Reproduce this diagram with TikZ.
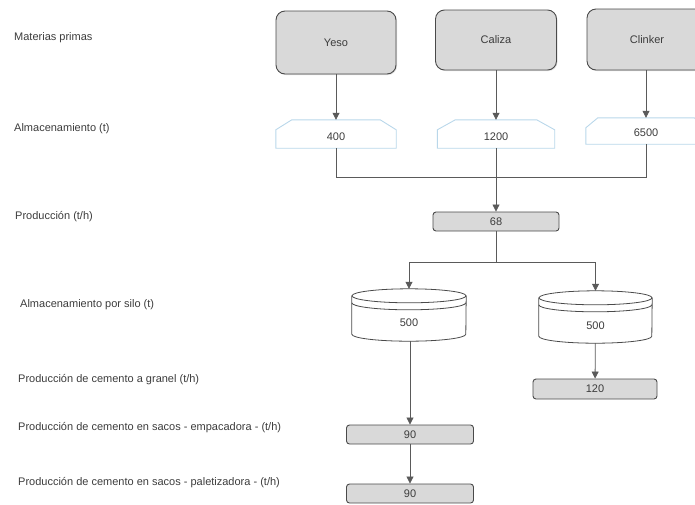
\documentclass[tikz,border=0pt]{standalone}
\usepackage{fontspec}
\setmainfont{Liberation Sans}
\usetikzlibrary{arrows.meta,calc,backgrounds,shadows}
\definecolor{boxfill}{HTML}{D9D9D9}
\definecolor{boxline}{HTML}{4A4A4A}
\definecolor{txt}{HTML}{3C3C3C}
\definecolor{storeblue}{HTML}{B9D7EA}
\definecolor{connc}{HTML}{5A5A5A}
\newcommand{\lowtext}[2]{\raisebox{-#1}[0pt][0pt]{#2}}
\begin{document}
\begin{tikzpicture}[x=1pt,y=-1pt,
  font=\fontsize{11}{13}\selectfont, text=txt,
  raw/.style={draw=boxline, line width=0.9pt, fill=boxfill, rounded corners=9pt,
    minimum width=120pt, minimum height=61pt, inner sep=0pt,
    drop shadow={shadow xshift=1pt, shadow yshift=-1pt, opacity=0.25}},
  flow/.style={draw=boxline, line width=0.9pt, fill=boxfill, rounded corners=3pt,
    minimum width=126pt, minimum height=19pt, inner sep=0pt},
  store/.style={minimum width=120pt, minimum height=28pt, inner sep=0pt},
  silo/.style={minimum width=114pt, minimum height=52pt, inner sep=0pt},
  storeline/.style={draw=storeblue, line width=0.9pt},
  siloline/.style={draw=boxline, line width=0.8pt, fill=white},
  connline/.style={draw=connc, line width=0.8pt},
  arr/.style={connline, -{Triangle[width=7pt,length=7pt]}},
  lbl/.style={anchor=west, inner sep=0pt}]
\useasboundingbox (0,0) rectangle (695,504);
\clip (0,0) rectangle (695,504);

% left labels
\node[lbl] (l1) at (14,38) {Materias primas};
\node[lbl] (l2) at (14,129) {Almacenamiento (t)};
\node[lbl] (l3) at (15,217) {Producción (t/h)};
\node[lbl] (l4) at (20,305) {Almacenamiento por silo (t)};
\node[lbl] (l5) at (18,380) {Producción de cemento a granel (t/h)};
\node[lbl] (l6) at (18,428) {Producción de cemento en sacos - empacadora - (t/h)};
\node[lbl] (l7) at (18,483) {Producción de cemento en sacos - paletizadora - (t/h)};

% raw materials
\node[raw, minimum height=63pt] (yeso) at (336,42.5) {Yeso};
\node[raw, minimum width=121pt, minimum height=60pt] (caliza) at (496,40) {Caliza};
\node[raw, minimum height=61pt] (clinker) at (647,39.5) {Clinker};

% storage
\node[store] (s1) at (336,134) {\lowtext{6.8pt}{400}};
\node[store, minimum width=117pt] (s2) at (496,134) {\lowtext{6.8pt}{1200}};
\node[store, minimum width=120pt, minimum height=26pt] (s3) at (646,131) {\lowtext{5.8pt}{6500}};

\begin{scope}[on background layer]
\foreach \s/\ins in {s1/16, s2/18, s3/12}{
  \draw[storeline] (\s.south west) -- ($(\s.north west)+(0,10)$) -- ($(\s.north west)+(\ins,0)$)
    -- ($(\s.north east)+(-\ins,0)$) -- ($(\s.north east)+(0,10)$) -- (\s.south east) -- cycle;
}
\end{scope}

\draw[arr] (yeso) -- (s1);
\draw[arr] (caliza) -- (s2);
\draw[arr] (clinker.south -| s3) -- (s3);

% production
\coordinate (j1) at (496,177);
\node[flow] (p) at (496,221.5) {68};
\draw[connline] (s1) |- (j1);
\draw[connline] (s3) |- (j1);
\draw[arr] (s2) -- (p);

% silos
\coordinate (j2) at (496,262);
\node[silo] (c1) at (409,315) {\lowtext{11.8pt}{500}};
\node[silo, minimum width=113pt] (c2) at (595.5,317) {\lowtext{12.8pt}{500}};
\begin{scope}[on background layer]
\foreach \c/\rx in {c1/57, c2/56.5}{
  \draw[siloline] ($(\c.north west)+(0,7)$) -- ($(\c.south west)+(0,-7)$)
    arc[start angle=180, end angle=360, x radius=\rx pt, y radius=7pt]
    -- ($(\c.north east)+(0,7)$);
  \draw[siloline] ($(\c.north)+(0,7)$) ellipse [x radius=\rx pt, y radius=7pt];
  \draw[siloline, fill=none] ($(\c.north west)+(0,14)$)
    arc[start angle=180, end angle=360, x radius=\rx pt, y radius=7pt];
}
\end{scope}
\draw[connline] (p) -- (j2);
\draw[arr] (j2) -| (c1);
\draw[arr] (j2) -| (c2);

% outputs
\node[flow, minimum width=124pt, minimum height=20pt] (g) at (595,389) {120};
\node[flow, minimum width=127pt] (e) at (410,434.5) {90};
\node[flow, minimum width=127pt] (pz) at (410,493.5) {90};
\draw[arr] (c2) -- (g);
\draw[arr] (c1.south -| e) -- (e);
\draw[arr] (e) -- (pz);
\end{tikzpicture}
\end{document}
